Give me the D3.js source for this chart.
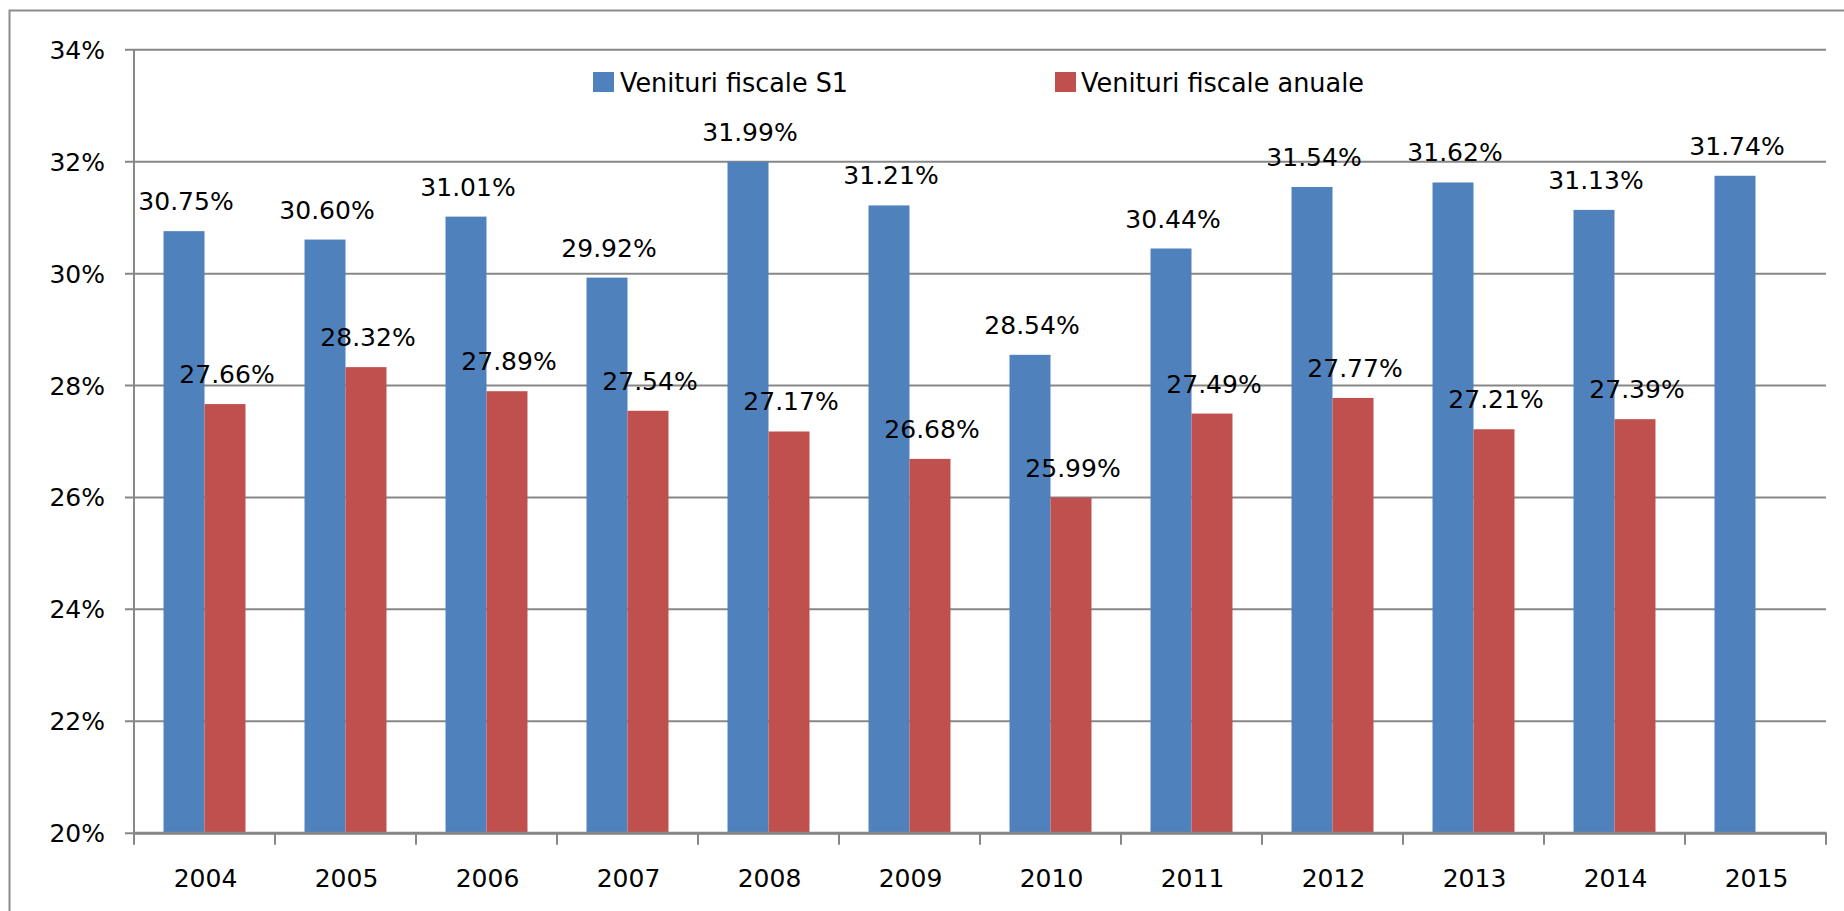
<!DOCTYPE html>
<html>
<head>
<meta charset="utf-8">
<script src="https://cdn.jsdelivr.net/npm/d3@7"></script>
<style>
  body { margin: 0; background: #fff; }
  text { font-family: "DejaVu Sans", sans-serif; fill: #000; }
</style>
</head>
<body>
<svg id="chart" width="1844" height="911"></svg>
<script>
const years = ["2004", "2005", "2006", "2007", "2008", "2009", "2010", "2011", "2012", "2013", "2014", "2015"];
const venituriS1 = [30.75, 30.60, 31.01, 29.92, 31.99, 31.21, 28.54, 30.44, 31.54, 31.62, 31.13, 31.74];
const venituriAnuale = [27.66, 28.32, 27.89, 27.54, 27.17, 26.68, 25.99, 27.49, 27.77, 27.21, 27.39, null];
const yTicks = [20, 22, 24, 26, 28, 30, 32, 34];
const seriesNames = ["Venituri fiscale S1", "Venituri fiscale anuale"];

const colors = ["#4F81BD", "#C0504D"];
const gridColor = "#878787";

const svg = d3.select("#chart");

// outer chart border (only left and top visible in the frame)
svg.append("rect")
    .attr("x", 9.5).attr("y", 10.5)
    .attr("width", 1900).attr("height", 1000)
    .attr("fill", "none")
    .attr("stroke", "#8c8c8c")
    .attr("stroke-width", 2);

const margin = { left: 134, top: 49.3, right: 1826, bottom: 832.7 };
const w = margin.right - margin.left;
const h = margin.bottom - margin.top;

const g = svg.append("g").attr("transform", `translate(${margin.left},${margin.top})`);

const x = d3.scaleBand().domain(years).range([0, w]).padding(0);
const xs = d3.scaleBand().domain(["s1", "an"]).range([0, x.bandwidth()]).paddingInner(0).paddingOuter(0.72);
const y = d3.scaleLinear().domain([20, 34]).range([h, 0]);

// horizontal gridlines + y labels
const yAxis = g.append("g")
    .call(d3.axisLeft(y).tickValues(yTicks).tickSizeInner(-w).tickSizeOuter(0).tickFormat(d => d + "%"));
yAxis.select(".domain").remove();
yAxis.selectAll(".tick line")
    .attr("x1", -9)
    .attr("stroke", gridColor)
    .attr("stroke-width", 2);
yAxis.selectAll(".tick text")
    .attr("x", -29)
    .attr("dy", "0.36em")
    .style("font-size", "25px")
    .style("font-family", "DejaVu Sans");

// bars
const rows = years.map((yr, i) => ({ year: yr, s1: venituriS1[i], an: venituriAnuale[i] }));

const groups = g.selectAll(".grp")
    .data(rows)
    .enter()
    .append("g")
    .attr("class", "grp")
    .attr("transform", d => `translate(${x(d.year)},0)`);

["s1", "an"].forEach((key, k) => {
    groups.filter(d => d[key] != null)
        .append("rect")
        .attr("x", xs(key))
        .attr("width", xs.bandwidth())
        .attr("y", d => y(d[key]))
        .attr("height", d => h - y(d[key]))
        .attr("fill", colors[k]);

    groups.filter(d => d[key] != null)
        .append("text")
        .attr("x", xs(key) + xs.bandwidth() / 2 + 2)
        .attr("y", d => y(d[key]) - 21)
        .attr("text-anchor", "middle")
        .style("font-size", "25px")
        .text(d => d[key].toFixed(2) + "%");
});

// left axis line
g.append("line")
    .attr("x1", 0).attr("x2", 0)
    .attr("y1", 0).attr("y2", h + 1)
    .attr("stroke", gridColor)
    .attr("stroke-width", 2);

// bottom axis
const xAxis = g.append("g")
    .attr("transform", `translate(0,${h})`)
    .call(d3.axisBottom(x).tickSize(0));
xAxis.select(".domain")
    .attr("stroke", gridColor)
    .attr("stroke-width", 3);
xAxis.selectAll(".tick text")
    .attr("y", 54)
    .attr("dy", 0)
    .attr("dx", 1)
    .style("font-size", "25px")
    .style("font-family", "DejaVu Sans");

const bounds = years.map(yr => x(yr)).concat([w]);
xAxis.selectAll(".bound")
    .data(bounds)
    .enter()
    .append("line")
    .attr("class", "bound")
    .attr("x1", d => d).attr("x2", d => d)
    .attr("y1", 0).attr("y2", 12)
    .attr("stroke", gridColor)
    .attr("stroke-width", 2);

// legend
const legendPos = [
    { sx: 593, tx: 620, len: 228 },
    { sx: 1055, tx: 1081, len: 283 }
];
const legend = svg.selectAll(".legend")
    .data(seriesNames)
    .enter()
    .append("g")
    .attr("class", "legend");

legend.append("rect")
    .attr("x", (d, i) => legendPos[i].sx)
    .attr("y", 72)
    .attr("width", 21)
    .attr("height", 20)
    .attr("fill", (d, i) => colors[i]);

legend.append("text")
    .attr("x", (d, i) => legendPos[i].tx)
    .attr("y", 92)
    .attr("textLength", (d, i) => legendPos[i].len)
    .attr("lengthAdjust", "spacingAndGlyphs")
    .style("font-size", "26px")
    .text(d => d);
</script>
</body>
</html>
